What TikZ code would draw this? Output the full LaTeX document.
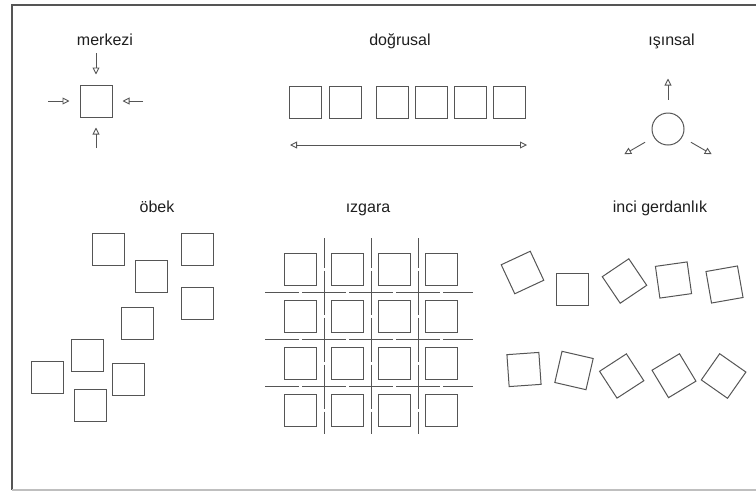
\documentclass[tikz,border=0pt]{standalone}
\usepackage{fontspec}
\setmainfont{Liberation Sans}
\usetikzlibrary{arrows.meta,positioning}
\definecolor{lineg}{RGB}{85,85,85}
\definecolor{frameg}{RGB}{85,85,85}
\definecolor{textg}{RGB}{30,30,30}

\begin{document}
\begin{tikzpicture}[x=1pt,y=-1pt,
  font=\fontsize{16}{19}\selectfont,
  >={Triangle[open,length=7pt,width=7pt]},
  title/.style={inner sep=0pt,anchor=base,text=textg},
  cell/.style={draw=lineg,line width=1pt,minimum size=32pt,inner sep=0pt},
  ptr/.style={->,draw=lineg,line width=0.9pt},
  rule/.style={draw=lineg,line width=1pt}]
  \useasboundingbox (0,0) rectangle (756,491);
  % frame
  \draw[frameg,line width=1.6pt] (756,5) -- (12,5) -- (12,490);
  \draw[black!25,line width=1.2pt] (12,490) -- (756,490);

  % merkezi
  \node[title] (tmk) at (105,45) {merkezi};
  \node[cell] (mk) at (96,101) {};
  \coordinate (mkN) at (96,53);
  \coordinate (mkW) at (48,101);
  \coordinate (mkE) at (143,101);
  \coordinate (mkS) at (96,148);
  \foreach \p/\a in {mkN/north,mkW/west,mkE/east,mkS/south}
    \draw[ptr,shorten >=10pt] (\p) -- (mk.\a);

  % dogrusal
  \node[title] (tdg) at (400,45) {doğrusal};
  \foreach \x [count=\i] in {305.5,345,392,431,470,509.5}
    \node[cell] (d\i) at (\x,102) {};
  \coordinate (dgL) at (290,145);
  \coordinate (dgR) at (527,145);
  \draw[ptr,<->] (dgL) -- (dgR);

  % isinsal
  \node[title] (tis) at (671.5,45) {ışınsal};
  \node[cell,circle] (is) at (668,129) {};
  \foreach \a/\g in {90/13pt,210/10pt,330/10pt}
    \draw[ptr] ([shift={(\a:\g)}]is.\a) -- ([shift={(\a:34pt)}]is.\a);

  % obek
  \node[title] (tob) at (157,212) {öbek};
  \foreach \x/\y [count=\i] in {108/249,197.5/249,151/276,197/303,137/323,
      87.5/355,47/377,128/379.5,90.5/405}
    \node[cell] (o\i) at (\x,\y) {};

  % izgara
  \node[title] (tiz) at (368,212) {ızgara};
  \foreach \c [count=\i] in {300.5,347,394,441}
    \foreach \r [count=\j] in {269,316,363,410}
      \node[cell] (g\i\j) at (\c,\r) {};
  \foreach \x in {324,371,418}
    \draw[rule,dash pattern=on 44pt off 3pt,dash phase=14.5pt] (\x,238) -- (\x,434);
  \foreach \y in {292.5,339.5,386.5}
    \draw[rule,dash pattern=on 44pt off 3pt,dash phase=10pt] (265,\y) -- (473,\y);

  % inci gerdanlik
  \node[title] (tin) at (660,212) {inci gerdanlık};
  \foreach \x/\y/\r [count=\i] in {522.5/272.5/25,572/289/0,624.5/281/34,
      673.5/280/8,724.5/284.5/10}
    \node[cell,rotate=\r] (p\i) at (\x,\y) {};
  \foreach \x/\y/\r [count=\i] in {524/369.5/4,574/370.5/-13,621.7/376/33,
      674/375.7/31,723.6/376/-35}
    \node[cell,rotate=\r] (q\i) at (\x,\y) {};
\end{tikzpicture}
\end{document}
